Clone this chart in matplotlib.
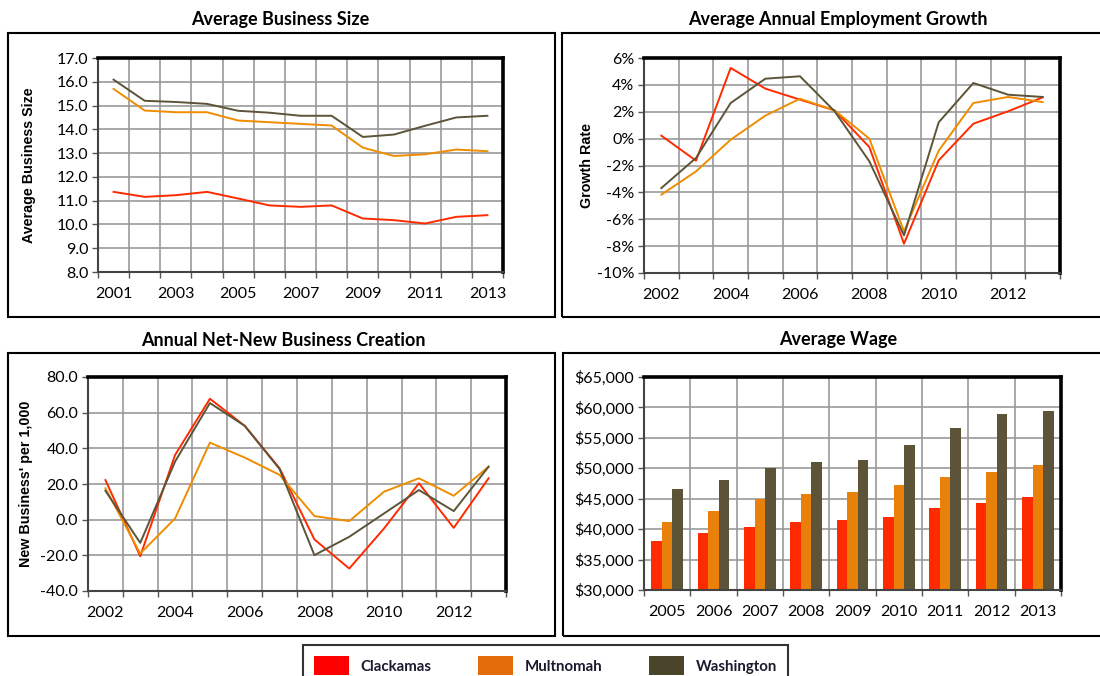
"""Four-panel regional indicators chart: business size, employment growth,
net-new business creation and average wage for three Oregon counties."""
import matplotlib
matplotlib.use("Agg")
import matplotlib.pyplot as plt
from matplotlib.patches import Rectangle, Patch
from matplotlib.ticker import FixedLocator, FuncFormatter, MultipleLocator
import numpy as np

plt.rcParams["font.family"] = ["Lato", "DejaVu Sans"]

# ---- data -------------------------------------------------------------
counties = ["Clackamas", "Multnomah", "Washington"]
line_colors = ["#ff2a00", "#f08c00", "#5c5438"]
bar_colors = ["#ff2a00", "#e8800a", "#5c5438"]
legend_colors = ["#ff0000", "#e36c0a", "#4a452a"]

size_years = list(range(2001, 2014))
size_clackamas = [11.37, 11.16, 11.23, 11.37, 11.09, 10.80, 10.74, 10.80, 10.25, 10.18, 10.04, 10.32, 10.39]
size_multnomah = [15.70, 14.79, 14.72, 14.72, 14.37, 14.30, 14.23, 14.16, 13.23, 12.88, 12.95, 13.15, 13.08]
size_washington = [16.09, 15.20, 15.15, 15.07, 14.78, 14.70, 14.57, 14.57, 13.68, 13.78, 14.15, 14.50, 14.57]

growth_years = list(range(2002, 2014))
growth_clackamas = [0.22, -1.64, 5.26, 3.72, 2.90, 2.10, -0.63, -7.82, -1.62, 1.11, 2.03, 3.07]
growth_multnomah = [-4.17, -2.44, -0.08, 1.71, 2.97, 2.10, 0.00, -6.90, -0.90, 2.65, 3.10, 2.72]
growth_washington = [-3.68, -1.44, 2.65, 4.46, 4.64, 2.03, -1.69, -7.20, 1.21, 4.14, 3.27, 3.10]

newbiz_years = list(range(2002, 2014))
newbiz_clackamas = [22.2, -20.5, 36.3, 67.8, 52.6, 28.8, -11.1, -27.4, -4.9, 20.4, -4.6, 23.2]
newbiz_multnomah = [17.6, -19.0, 0.7, 43.2, 34.8, 25.1, 2.0, -0.8, 15.7, 23.2, 13.4, 29.7]
newbiz_washington = [16.2, -13.0, 32.6, 65.4, 52.6, 28.4, -19.9, -9.6, 3.5, 16.6, 4.8, 29.7]

wage_years = list(range(2005, 2014))
wage_clackamas = [38000, 39330, 40420, 41250, 41520, 42070, 43440, 44260, 45360]
wage_multnomah = [41140, 43060, 44980, 45850, 46130, 47220, 48650, 49470, 50570]
wage_washington = [46620, 48050, 50020, 51060, 51340, 53860, 56660, 58910, 59460]

W, H = 1100, 676
fig = plt.figure(figsize=(11, 6.76), dpi=100)


def fx(px):
    return px / W


def fy(py):
    return 1 - py / H


def style_axes(ax, years, label_step):
    n = len(years)
    ax.set_xlim(-0.5, n - 0.5)
    # category boundaries get the grid lines and tick marks
    ax.xaxis.set_minor_locator(FixedLocator(np.arange(n + 1) - 0.5))
    ax.xaxis.set_major_locator(FixedLocator(np.arange(0, n, label_step)))
    ax.set_xticklabels([str(years[i]) for i in range(0, n, label_step)])
    ax.tick_params(axis="x", which="major", length=0, pad=11, labelsize=11.5)
    ax.tick_params(axis="x", which="minor", length=4, width=1, color="#555555", direction="out")
    ax.tick_params(axis="y", which="major", length=4, width=1, color="#555555", pad=3, labelsize=11.5)
    ax.grid(True, which="minor", axis="x", color="#999999", lw=1.2)
    ax.grid(True, which="major", axis="y", color="#999999", lw=1.2)
    ax.set_axisbelow(True)
    for side in ("top", "right"):
        ax.spines[side].set_linewidth(2.6)
        ax.spines[side].set_color("black")
    for side in ("left", "bottom"):
        ax.spines[side].set_linewidth(1.5)
        ax.spines[side].set_color("#444444")


def box(x0, y0, x1, y1):
    fig.add_artist(Rectangle((fx(x0), fy(y1)), fx(x1 - x0), (y1 - y0) / H,
                             transform=fig.transFigure, fill=False, ec="black", lw=1.5))


def panel_title(text, xc, yc):
    fig.text(fx(xc), fy(yc), text, ha="center", va="center", fontsize=13, fontweight="bold")


# panel frames and titles
box(8, 33, 555, 317)
box(562, 33, 1110, 317)
box(8, 353, 555, 636)
box(563, 353, 1110, 636)
panel_title("Average Business Size", 280, 19)
panel_title("Average Annual Employment Growth", 838, 19)
panel_title("Annual Net-New Business Creation", 283, 340)
panel_title("Average Wage", 838, 340)

ylabel_kw = dict(fontsize=10.3, fontweight="bold", family=["Liberation Sans", "DejaVu Sans"])

# ---- top left: average business size -----------------------------------
ax1 = fig.add_axes([fx(98), fy(272), fx(503 - 98), (272 - 58) / H])
x = np.arange(len(size_years))
for vals, c in zip([size_clackamas, size_multnomah, size_washington], line_colors):
    ax1.plot(x, vals, color=c, lw=1.4)
ax1.set_ylim(8, 17)
ax1.yaxis.set_major_locator(MultipleLocator(1))
ax1.yaxis.set_major_formatter(FuncFormatter(lambda v, p: f"{v:.1f}"))
style_axes(ax1, size_years, 2)
ax1.set_ylabel("Average Business Size", **ylabel_kw)
ax1.yaxis.set_label_coords(-0.153, 0.5)

# ---- top right: employment growth ---------------------------------------
ax2 = fig.add_axes([fx(644), fy(273), fx(1060 - 644), (273 - 58) / H])
x = np.arange(len(growth_years))
for vals, c in zip([growth_clackamas, growth_multnomah, growth_washington], line_colors):
    ax2.plot(x, vals, color=c, lw=1.4)
ax2.set_ylim(-10, 6)
ax2.yaxis.set_major_locator(MultipleLocator(2))
ax2.yaxis.set_major_formatter(FuncFormatter(lambda v, p: f"{v:.0f}%"))
style_axes(ax2, growth_years, 2)
ax2.set_ylabel("Growth Rate", **ylabel_kw)
ax2.yaxis.set_label_coords(-0.12, 0.5)

# ---- bottom left: net-new business creation -----------------------------
ax3 = fig.add_axes([fx(88), fy(591), fx(506 - 88), (591 - 377) / H])
x = np.arange(len(newbiz_years))
for vals, c in zip([newbiz_clackamas, newbiz_multnomah, newbiz_washington], line_colors):
    ax3.plot(x, vals, color=c, lw=1.4)
ax3.set_ylim(-40, 80)
ax3.yaxis.set_major_locator(MultipleLocator(20))
ax3.yaxis.set_major_formatter(FuncFormatter(lambda v, p: f"{v:.1f}"))
style_axes(ax3, newbiz_years, 2)
ax3.set_ylabel("New Business' per 1,000", **ylabel_kw)
ax3.yaxis.set_label_coords(-0.132, 0.5)

# ---- bottom right: average wage ------------------------------------------
ax4 = fig.add_axes([fx(644), fy(590), fx(1061 - 644), (590 - 377) / H])
x = np.arange(len(wage_years))
bw = 0.23
for k, (vals, c) in enumerate(zip([wage_clackamas, wage_multnomah, wage_washington], bar_colors)):
    ax4.bar(x + (k - 1) * bw, vals, width=bw, color=c, zorder=2)
ax4.set_ylim(30000, 65000)
ax4.yaxis.set_major_locator(MultipleLocator(5000))
ax4.yaxis.set_major_formatter(FuncFormatter(lambda v, p: f"${v:,.0f}"))
style_axes(ax4, wage_years, 1)

# ---- legend ---------------------------------------------------------------
handles = [Patch(facecolor=c, edgecolor="none") for c in legend_colors]
leg = fig.legend(handles, counties, loc="upper left", bbox_to_anchor=(fx(303), fy(645)),
                 ncol=3, frameon=True, fancybox=False, borderaxespad=0, borderpad=0.75,
                 handlelength=2.3, handleheight=1.55, handletextpad=0.8,
                 columnspacing=3.1, prop=dict(size=10.8, weight="bold"))
leg.get_frame().set_edgecolor("black")
leg.get_frame().set_linewidth(1.5)
for t in leg.get_texts():
    t.set_color("#1a1a2e")

fig.savefig("out.png", dpi=100)
